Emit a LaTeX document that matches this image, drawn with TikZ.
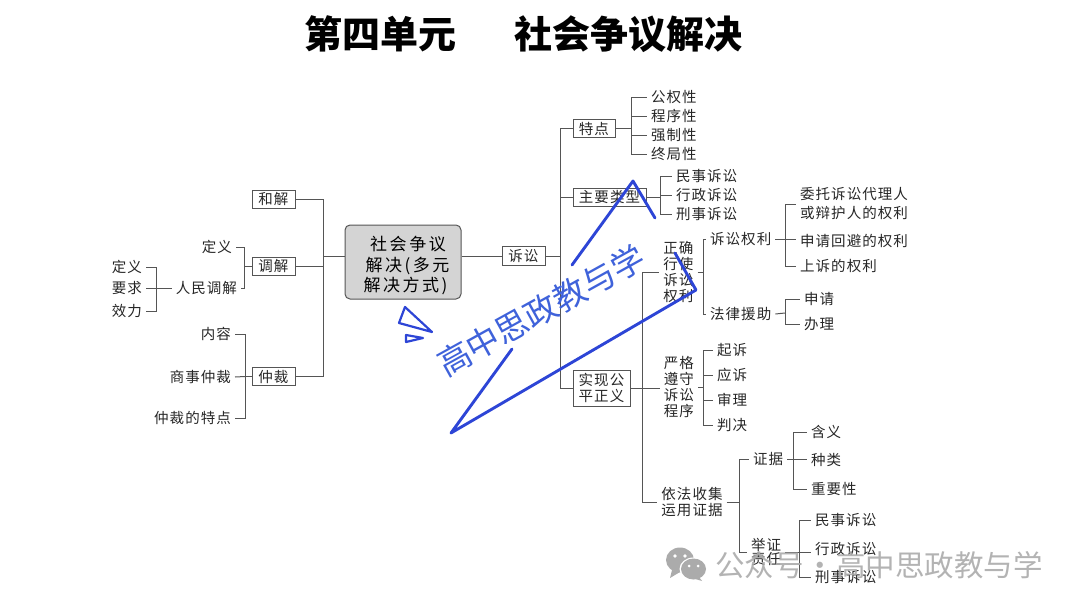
\documentclass[tikz,border=0pt]{standalone}
\usepackage{fontspec}
\setmainfont[LetterSpace=7]{Noto Sans CJK SC}
\newfontfamily\plaincjk{Noto Sans CJK SC}
\definecolor{linegray}{HTML}{555555}
\definecolor{boxgray}{HTML}{D4D4D4}
\definecolor{textgray}{HTML}{262626}
\definecolor{penblue}{HTML}{2D45D6}
\definecolor{markblue}{HTML}{3F62DA}
\definecolor{markgray}{HTML}{ABABAB}
\tikzset{
  link/.style={draw=linegray,line width=1pt},
  leafnode/.style={inner xsep=4pt,inner ysep=0pt,align=center,text=textgray,font=\fontsize{14.5}{16.3}\selectfont},
  boxnode/.style={draw=linegray,fill=white,line width=1pt,inner sep=0pt,align=center,text=textgray,font=\fontsize{14.5}{16}\selectfont},
  mainbox/.style={draw=linegray,fill=boxgray,line width=1pt,rounded corners=5pt,minimum width=116pt,minimum height=74pt,inner sep=0pt,align=center,text=black,font=\fontsize{17}{20.5}\selectfont\addfontfeature{LetterSpace=15}},
  penstroke/.style={draw=penblue,line width=2.9pt,line join=round,line cap=round}
}
\begin{document}
\begin{tikzpicture}[x=1pt,y=-1pt]
  \useasboundingbox (0,0) rectangle (1080,608);
  %Titre
  \node (title) at (523.5,34) {\plaincjk\bfseries\fontsize{38}{40}\selectfont 第四单元\hspace{58pt}社会争议解决};
  %Centre
  \node[mainbox] (central) at (403,262) {\rule{0pt}{22pt}\hspace*{10pt}社会争议\\\hspace*{9pt}解决(多元\\\hspace*{5pt}解决方式)};
  %Gauche
  \node[boxnode,minimum width=43pt,minimum height=18pt] (hejie) at (273.5,199) {和解};
  \node[boxnode,minimum width=43pt,minimum height=18pt] (tiaojie) at (273.5,266.5) {调解};
  \node[boxnode,minimum width=43pt,minimum height=18pt] (zhongcai) at (273.5,376.5) {仲裁};
  \node[leafnode,anchor=east] (dingyi) at (236,247) {定义};
  \node[leafnode,anchor=east] (renmin) at (241,288) {人民调解};
  \node[leafnode,anchor=east] (dingyib) at (146,267) {定义};
  \node[leafnode,anchor=east] (yaoqiu) at (146,288) {要求};
  \node[leafnode,anchor=east] (xiaoli) at (146,311) {效力};
  \node[leafnode,anchor=east] (neirong) at (235,334) {内容};
  \node[leafnode,anchor=east] (shangshi) at (235,377) {商事仲裁};
  \node[leafnode,anchor=east] (tedianzc) at (235,418) {仲裁的特点};
  \coordinate (jleft) at (323,256);
  \coordinate (jtiao) at (244,266.5);
  \coordinate (jren) at (156,288);
  \coordinate (jzc) at (245,376.5);
  \draw[link] (central.west |- jleft) -- (jleft);
  \draw[link] (jleft) |- (hejie.east);
  \draw[link] (jleft) |- (tiaojie.east);
  \draw[link] (jleft) |- (zhongcai.east);
  \draw[link] (tiaojie.west) -- (jtiao);
  \draw[link] (jtiao) |- (dingyi.east);
  \draw[link] (jtiao) |- (renmin.east);
  \draw[link] (renmin.west) -- (jren);
  \draw[link] (jren) |- (dingyib.east);
  \draw[link] (jren) -- (yaoqiu.east);
  \draw[link] (jren) |- (xiaoli.east);
  \draw[link] (zhongcai.west) -- (jzc);
  \draw[link] (jzc) |- (neirong.east);
  \draw[link] (jzc) -- (shangshi.east);
  \draw[link] (jzc) |- (tedianzc.east);
  %Droite
  \node[boxnode,minimum width=43pt,minimum height=19pt] (susong) at (523.5,256) {诉讼};
  \node[boxnode,minimum width=42pt,minimum height=18pt] (tedian) at (594,128.5) {特点};
  \node[boxnode,minimum width=73pt,minimum height=18pt] (leixing) at (609.5,197) {主要类型};
  \node[boxnode,minimum width=57pt,minimum height=36pt] (gongzheng) at (601.5,388) {实现公\\平正义};
  \coordinate (jright) at (560,256);
  \draw[link] (central.east |- jright) -- (susong.west);
  \draw[link] (susong.east) -- (jright);
  \draw[link] (jright) |- (tedian.west);
  \draw[link] (jright) |- (leixing.west);
  \draw[link] (jright) |- (gongzheng.west);
  %Caracteres
  \coordinate (jtd) at (631,128.5);
  \node[leafnode,anchor=west] (gongquan) at (647,97) {公权性};
  \node[leafnode,anchor=west] (chengxu) at (647,116) {程序性};
  \node[leafnode,anchor=west] (qiangzhi) at (647,135) {强制性};
  \node[leafnode,anchor=west] (zhongju) at (647,154) {终局性};
  \draw[link] (tedian.east) -- (jtd);
  \draw[link] (jtd) |- (gongquan.west);
  \draw[link] (jtd) |- (chengxu.west);
  \draw[link] (jtd) |- (qiangzhi.west);
  \draw[link] (jtd) |- (zhongju.west);
  %Types
  \coordinate (jlx) at (660,197);
  \node[leafnode,anchor=west] (minshi) at (672,176) {民事诉讼};
  \node[leafnode,anchor=west] (xingzheng) at (672,195) {行政诉讼};
  \node[leafnode,anchor=west] (xingshi) at (672,214) {刑事诉讼};
  \draw[link] (leixing.east) -- (jlx);
  \draw[link] (jlx) |- (minshi.west);
  \draw[link] (jlx) |- (xingzheng.west);
  \draw[link] (jlx) |- (xingshi.west);
  %Justice
  \coordinate (jgz) at (642,388);
  \node[leafnode] (xingshi4) at (678.5,272) {正确\\行使\\诉讼\\权利};
  \node[leafnode] (zunshou) at (679,387) {严格\\遵守\\诉讼\\程序};
  \node[leafnode,font=\fontsize{14.5}{16}\selectfont] (shouji) at (692,502) {依法收集\\运用证据};
  \draw[link] (gongzheng.east) -- (zunshou.west |- gongzheng.east);
  \draw[link] (jgz) |- (xingshi4.west);
  \draw[link] (jgz) |- (shouji.west);
  %Droits
  \coordinate (jxs) at (703,272);
  \node[leafnode,anchor=west] (quanli) at (706,239) {诉讼权利};
  \node[leafnode,anchor=west] (yuanzhu) at (706,314) {法律援助};
  \draw[link] (xingshi4.east) -- (jxs);
  \draw[link] (jxs) |- (quanli.west);
  \draw[link] (jxs) |- (yuanzhu.west);
  \coordinate (jql) at (785,239);
  \node[leafnode,anchor=west,align=left,font=\fontsize{14.5}{19}\selectfont] (weituo) at (796,204) {委托诉讼代理人\\或辩护人的权利};
  \node[leafnode,anchor=west] (huibi) at (796,241) {申请回避的权利};
  \node[leafnode,anchor=west] (shangsu) at (796,266) {上诉的权利};
  \draw[link] (quanli.east) -- (jql);
  \draw[link] (jql) |- (weituo.west);
  \draw[link] (jql) -- (huibi.west |- jql);
  \draw[link] (jql) |- (shangsu.west);
  \coordinate (jyz) at (785,313);
  \node[leafnode,anchor=west] (shenqing) at (800,299) {申请};
  \node[leafnode,anchor=west] (banli) at (800,324) {办理};
  \draw[link] (yuanzhu.east) -- (jyz);
  \draw[link] (jyz) |- (shenqing.west);
  \draw[link] (jyz) |- (banli.west);
  %Procedure
  \coordinate (jzs) at (703,387);
  \node[leafnode,anchor=west] (qisu) at (713,350) {起诉};
  \node[leafnode,anchor=west] (yingsu) at (713,375) {应诉};
  \node[leafnode,anchor=west] (shenli) at (713,400) {审理};
  \node[leafnode,anchor=west] (panjue) at (713,425) {判决};
  \draw[link] (zunshou.east) -- (jzs);
  \draw[link] (jzs) |- (qisu.west);
  \draw[link] (jzs) |- (yingsu.west);
  \draw[link] (jzs) |- (shenli.west);
  \draw[link] (jzs) |- (panjue.west);
  %Preuves
  \coordinate (jsj) at (739,502);
  \node[leafnode,anchor=west] (zhengju) at (749,459) {证据};
  \node[leafnode,anchor=west,font=\fontsize{14.5}{14.5}\selectfont] (juzheng) at (747,552) {举证\\责任};
  \draw[link] (shouji.east) -- (jsj);
  \draw[link] (jsj) |- (zhengju.west);
  \draw[link] (jsj) |- (juzheng.west);
  \coordinate (jzj) at (793,459);
  \node[leafnode,anchor=west] (hanyi) at (807,432) {含义};
  \node[leafnode,anchor=west] (zhonglei) at (807,460) {种类};
  \node[leafnode,anchor=west] (zhongyao) at (807,489) {重要性};
  \draw[link] (zhengju.east) -- (zhonglei.west |- zhengju.east);
  \draw[link] (jzj) |- (hanyi.west);
  \draw[link] (jzj) |- (zhongyao.west);
  \coordinate (jjz) at (799,552);
  \node[leafnode,anchor=west] (minshib) at (811,520) {民事诉讼};
  \node[leafnode,anchor=west] (xingzhengb) at (811,549) {行政诉讼};
  \node[leafnode,anchor=west] (xingshib) at (811,577) {刑事诉讼};
  \draw[link] (juzheng.east) -- (jjz);
  \draw[link] (jjz) |- (minshib.west);
  \draw[link] (jjz) -- (xingzhengb.west |- jjz);
  \draw[link] (jjz) |- (xingshib.west);
  %Trait bleu
  \draw[penstroke] (572,265) -- (633,181) -- (655,218);
  \draw[penstroke] (675,253) -- (696,290) -- (451,433) -- (512,349);
  \draw[penstroke,line width=2.2pt] (405,307) -- (432,332) -- (399,323) -- cycle;
  \draw[penstroke,line width=2.2pt] (406,335) -- (423,338) -- (406,342) -- cycle;
  \node[text=markblue,rotate=29] (markpen) at (541,310) {\plaincjk\fontsize{33}{35}\selectfont 高中思政教与学};
  %Filigrane
  \fill[markgray] (680,560) ellipse (14pt and 12.5pt);
  \fill[markgray] (672,570) -- (670,578) -- (680,572) -- cycle;
  \fill[white] (693.5,569) ellipse (14pt and 11.5pt);
  \fill[markgray] (693.5,569) ellipse (12.5pt and 10.5pt);
  \fill[markgray] (699,577) -- (702,581) -- (692,578) -- cycle;
  \fill[white] (675,556) circle (1.8pt) (685,556) circle (1.8pt) (689,566) circle (1.5pt) (698,566) circle (1.5pt);
  \node[text=markgray,anchor=west,inner sep=0pt,opacity=.9] (markname) at (715,565) {\plaincjk\fontsize{29.5}{31}\selectfont 公众号\hspace{1.5pt}·\hspace{1.5pt}高中思政教与学};
\end{tikzpicture}
\end{document}
